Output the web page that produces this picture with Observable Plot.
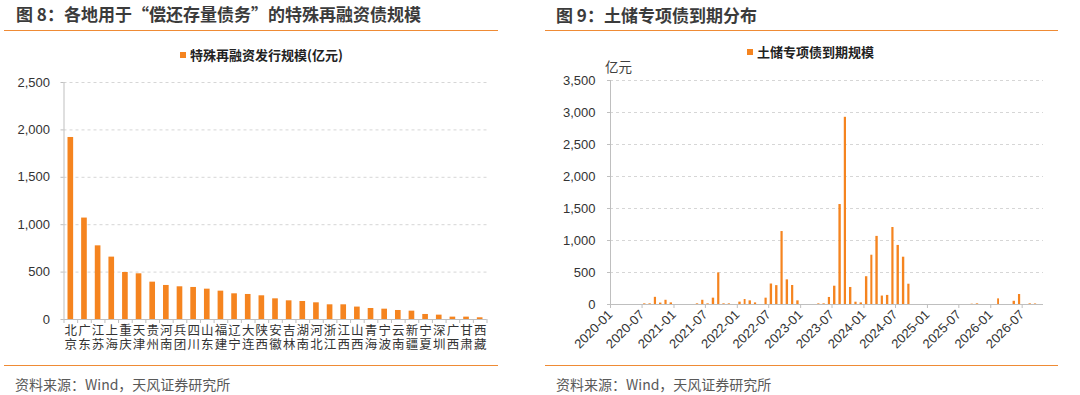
<!DOCTYPE html>
<html>
<head>
<meta charset="utf-8">
<script src="https://cdn.jsdelivr.net/npm/d3@7"></script>
<script src="https://cdn.jsdelivr.net/npm/@observablehq/plot@0.6"></script>
<style>
  body { margin: 0; background: #fff; }
  #wrap { position: relative; width: 1080px; height: 395px; overflow: hidden; background: #fff;
          font-family: "Liberation Sans", Arial, "Noto Sans CJK SC", sans-serif; color: #333; }
  .abs { position: absolute; white-space: nowrap; }
  .title { font-family: "Noto Sans CJK SC", sans-serif; font-weight: bold; font-size: 17px; line-height: 20px; color: #3b3b3b; }
  .rule { height: 0; border-top: 1.5px solid #ef8b35; }
  .legend { font-family: "Noto Sans CJK SC", sans-serif; font-weight: bold; font-size: 13px; line-height: 16px; color: #222;
            display: flex; align-items: center; }
  .legend i { display: inline-block; width: 6px; height: 6px; background: #f5841f; margin-right: 4px; }
  .src { font-family: "Noto Sans CJK SC", sans-serif; font-size: 14px; line-height: 18px; color: #595959; }
  .unit { font-family: "Noto Sans CJK SC", sans-serif; font-size: 13.5px; line-height: 16px; color: #404040; }
  .plot { position: absolute; }
</style>
</head>
<body>
<div id="wrap">
  <div class="abs title" style="left:16px;top:4px">图 8：各地用于“偿还存量债务”的特殊再融资债规模</div>
  <div class="abs rule" style="left:4px;width:494px;top:30px"></div>
  <div class="abs legend" style="left:180px;top:47px"><i></i>特殊再融资发行规模(亿元)</div>
  <div class="abs rule" style="left:4px;width:494px;top:365px"></div>
  <div class="abs src" style="left:15px;top:375px">资料来源：Wind，天风证券研究所</div>

  <div class="abs title" style="left:556px;top:5px">图 9：土储专项债到期分布</div>
  <div class="abs rule" style="left:545px;width:513px;top:30px"></div>
  <div class="abs legend" style="left:747px;top:44px"><i></i>土储专项债到期规模</div>
  <div class="abs unit" style="left:605px;top:58px">亿元</div>
  <div class="abs rule" style="left:545px;width:513px;top:365px"></div>
  <div class="abs src" style="left:556px;top:375px">资料来源：Wind，天风证券研究所</div>

  <div id="left" class="plot" style="left:0;top:60px"></div>
  <div id="right" class="plot" style="left:540px;top:60px"></div>
</div>
<script>
// ---- Figure 8 data ----
const categories = ["北京","广东","江苏","上海","重庆","天津","贵州","河南","兵团","四川","山东","福建","辽宁","大连","陕西",
  "安徽","吉林","湖南","河北","浙江","江西","山西","青海","宁波","云南","新疆","宁夏","深圳","广西","甘肃","西藏"];
const refiValues = [1920,1070,777,658,496,482,394,359,345,338,320,299,271,264,250,
  218,197,190,176,155,155,131,116,109,95,88,53,46,25,25,18];
const leftYTicks = [0,500,1000,1500,2000,2500];

// ---- Figure 9 data ----
const maturityMonths = ["2020-07","2020-08","2020-09","2020-10","2020-11","2020-12",
  "2021-05","2021-06","2021-07","2021-08","2021-09","2021-10","2021-11",
  "2022-01","2022-02","2022-03","2022-04","2022-06","2022-07","2022-08","2022-09","2022-10","2022-11","2022-12",
  "2023-04","2023-05","2023-06","2023-07","2023-08","2023-09","2023-10","2023-11","2023-12",
  "2024-01","2024-02","2024-03","2024-04","2024-05","2024-06","2024-07","2024-08","2024-09",
  "2025-09","2025-10","2026-02","2026-05","2026-06","2026-08","2026-09"];
const maturityValues = [10,10,112,22,66,25,
  10,66,10,99,494,10,10,
  37,78,57,25,99,320,295,1140,385,297,57,
  10,10,110,286,1562,2925,266,36,25,
  434,770,1064,132,142,1203,923,739,317,
  5,10,88,50,156,10,8];
const rightYTicks = [0,500,1000,1500,2000,2500,3000,3500];
const rightXDomain = ["2020-01","2026-11"];

const BAR = "#f5841f";
const AXIS = "#bfbfbf";
const GRID = "#d6d6d6";
const TXT = "#333";
const FONT = "'Liberation Sans', Arial, 'Noto Sans CJK SC', sans-serif";

// ---- Left chart ----
const n = categories.length;
const leftRows = categories.map((c, i) => ({c, i, v: refiValues[i]}));
const left = Plot.plot({
  width: 500, height: 300,
  marginTop: 22, marginBottom: 41, marginLeft: 63.5, marginRight: 13.5,
  style: {fontFamily: FONT, fontSize: "13px", color: TXT, background: "transparent"},
  x: {type: "linear", domain: [0, n], axis: null},
  y: {domain: [0, 2500], axis: null},
  marks: [
    Plot.gridY(leftYTicks, {stroke: GRID, strokeOpacity: 1, strokeDasharray: "3,3"}),
    Plot.rectY(leftRows, {x1: "i", x2: d => d.i + 1, y1: 0, y2: "v", fill: BAR, insetLeft: 4, insetRight: 4}),
    Plot.ruleX([0], {stroke: AXIS}),
    Plot.ruleY([0], {stroke: AXIS}),
    // category boundary tick marks (below the baseline)
    Plot.ruleX(d3.range(n + 1), {x: d => d, y1: 0, y2: 0, insetBottom: -4, stroke: AXIS}),
    Plot.axisY({ticks: leftYTicks, tickFormat: d3.format(","), tickSize: 3, tickPadding: 11, stroke: AXIS, fill: TXT, fontSize: 13, label: null}),
    Plot.axisX({ticks: d3.range(n).map(i => i + 0.5), tickSize: 0, tickPadding: 5,
      tickFormat: d => categories[Math.floor(d)].split("").join("\n"),
      fontSize: 12.5, lineHeight: 1.13, fill: TXT, label: null, fontFamily: FONT})
  ]
});
document.getElementById("left").append(left);

// ---- Right chart ----
const parseM = d3.utcParse("%Y-%m");
const rightRows = maturityMonths.map((m, i) => ({d: parseM(m), v: maturityValues[i]}));
const right = Plot.plot({
  width: 540, height: 300,
  marginTop: 20, marginBottom: 56, marginLeft: 70, marginRight: 37,
  style: {fontFamily: FONT, fontSize: "13px", color: TXT, background: "transparent"},
  x: {type: "utc", domain: rightXDomain.map(parseM), axis: null},
  y: {domain: [0, 3500], axis: null},
  marks: [
    Plot.gridY(rightYTicks, {stroke: GRID, strokeOpacity: 1, strokeDasharray: "3,3"}),
    Plot.rectY(rightRows, {x1: "d", x2: r => d3.utcMonth.offset(r.d, 1), y1: 0, y2: "v", fill: BAR, insetLeft: 1.5, insetRight: 1.5}),
    Plot.ruleX([parseM(rightXDomain[0])], {stroke: AXIS}),
    Plot.ruleY([0], {stroke: AXIS}),
    Plot.axisY({ticks: rightYTicks, tickFormat: d3.format(","), tickSize: 3, tickPadding: 12, stroke: AXIS, fill: TXT, fontSize: 13, label: null}),
    Plot.axisX({ticks: d3.utcMonth.every(6).range(parseM("2020-01"), parseM("2026-08")), tickFormat: d3.utcFormat("%Y-%m"),
      tickRotate: -45, tickSize: 4, tickPadding: 4, stroke: AXIS, fill: TXT, fontSize: 13, label: null})
  ]
});
document.getElementById("right").append(right);
</script>
</body>
</html>
